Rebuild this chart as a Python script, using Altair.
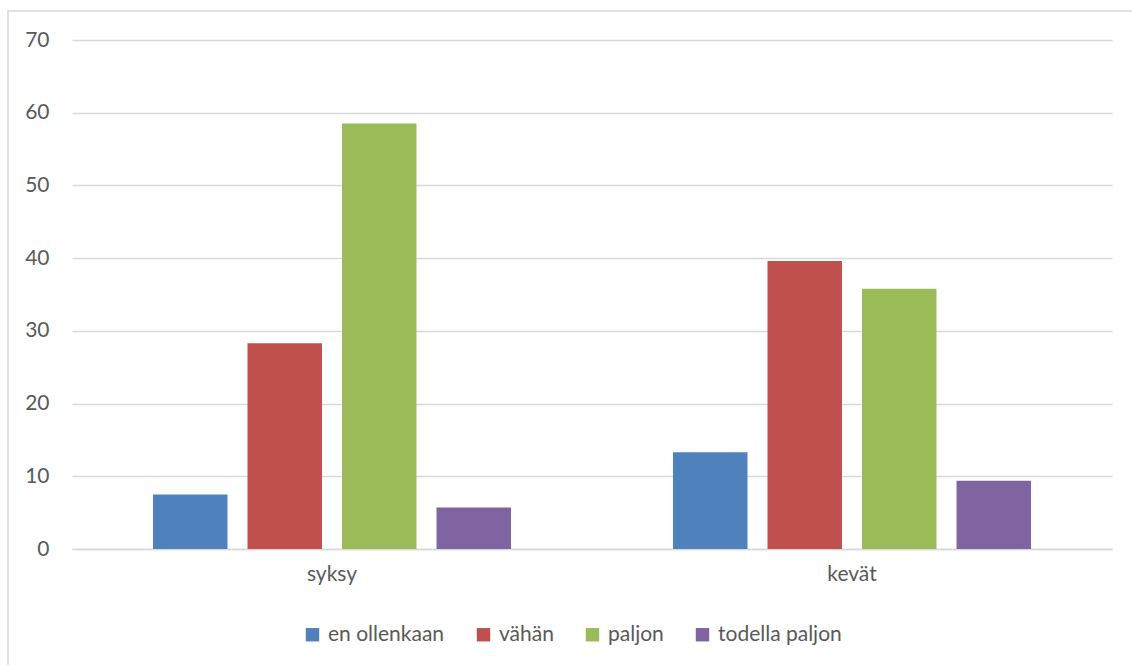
import altair as alt
import pandas as pd

# Survey answers per season, percent of respondents
seasons = ["syksy", "kevät"]
answers = ["en ollenkaan", "vähän", "paljon", "todella paljon"]
syksy_values = [7.5, 28.3, 58.5, 5.7]
kevat_values = [13.3, 39.6, 35.8, 9.4]
colors = ["#4F81BD", "#C0504D", "#9BBB59", "#8064A2"]

rows = []
for season, vals in zip(seasons, [syksy_values, kevat_values]):
    for ans, v in zip(answers, vals):
        rows.append({"kausi": season, "vastaus": ans, "arvo": v})
df = pd.DataFrame(rows)

FONT = "Lato"
TEXT = "#595959"
GRID = "#D9D9D9"

W, H = 1040, 509

# Light frame around the chart body
frame = alt.Chart(alt.Data(values=[{}])).mark_rect(
    fillOpacity=0, stroke=GRID, strokeWidth=1.5
).encode(
    x=alt.value(-64), x2=alt.value(1100),
    y=alt.value(-29), y2=alt.value(700)
)

bars = alt.Chart(df).mark_bar().encode(
    x=alt.X("kausi:N", sort=seasons, title=None,
            scale=alt.Scale(paddingInner=0, paddingOuter=0),
            axis=alt.Axis(labelAngle=0, ticks=False, domainColor=GRID,
                          domainWidth=1.5, labelFont=FONT, labelFontSize=21,
                          labelColor=TEXT, labelPadding=14)),
    xOffset=alt.XOffset("vastaus:N", sort=answers,
                        scale=alt.Scale(paddingInner=0.212, paddingOuter=0.857)),
    y=alt.Y("arvo:Q", title=None,
            scale=alt.Scale(domain=[0, 70], nice=False),
            axis=alt.Axis(values=[0, 10, 20, 30, 40, 50, 60, 70], ticks=False,
                          domain=False, gridColor=GRID, gridWidth=1.5,
                          labelFont=FONT, labelFontSize=21, labelColor=TEXT,
                          labelPadding=23)),
    color=alt.Color("vastaus:N", sort=answers,
                    scale=alt.Scale(domain=answers, range=colors),
                    legend=alt.Legend(title=None, orient="none",
                                      direction="horizontal",
                                      legendX=230, legendY=584,
                                      symbolType="square", symbolSize=180,
                                      symbolStrokeWidth=0, labelFont=FONT,
                                      labelFontSize=21, labelColor=TEXT,
                                      labelOffset=5, columnPadding=28)),
)

chart = alt.layer(frame, bars).properties(
    width=W, height=H,
    background="white",
    autosize=alt.AutoSizeParams(type="none"),
    padding={"left": 72, "top": 40, "right": 20, "bottom": 116},
).configure_view(strokeWidth=0)

chart.save("out.html", embed_options={"renderer": "svg", "actions": False})
